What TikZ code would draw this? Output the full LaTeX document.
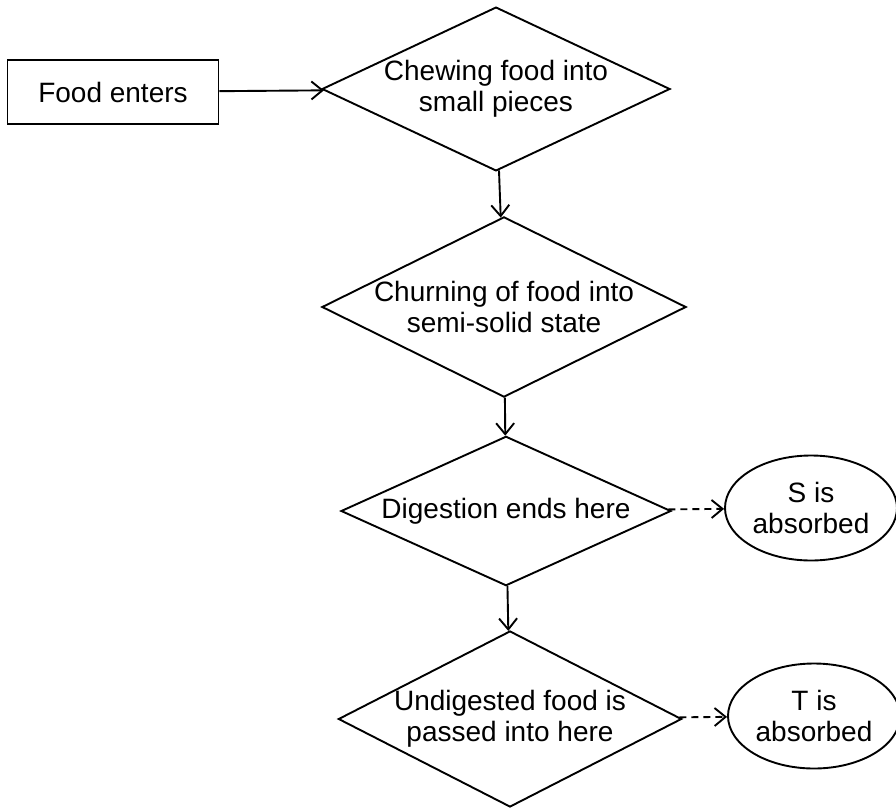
\documentclass[tikz,border=0pt]{standalone}
\usepackage{fontspec}
\setmainfont{Liberation Sans}
\usetikzlibrary{shapes.geometric,arrows.meta}

\tikzset{
  stage/.style={draw,diamond,inner sep=0pt,align=center},
  startbox/.style={draw,rectangle,inner sep=0pt,minimum width=211pt,minimum height=64pt},
  result/.style={draw,ellipse,inner sep=0pt,align=center,minimum width=172pt,minimum height=105pt},
  flow/.style={-{Straight Barb[length=11pt,width=18pt]}},
  leak/.style={flow,dash pattern=on 7pt off 5pt}
}

\begin{document}
\begin{tikzpicture}[x=1pt,y=-1pt,line width=1.9pt,
    font=\fontsize{28}{31}\selectfont]
      \useasboundingbox (0,0) rectangle (896,808);
      \node[startbox] (food) at (113,92) {Food enters};
      \node[stage,aspect=2.1,minimum width=348pt] (chew) at (496,89)
        {Chewing food into\\small pieces};
      \node[stage,aspect=2.02,minimum width=342pt] (churn) at (504,307)
        {Churning of food into\\semi-solid state};
      \node[stage,aspect=2.02,minimum width=330pt] (digest) at (506,511)
        {Digestion ends here};
      \node[stage,aspect=1.95,minimum width=336pt] (undig) at (510,719)
        {Undigested food is\\passed into here};
      \node[result] (sabs) at (811,508) {S is\\absorbed};
      \node[result] (tabs) at (814,716) {T is\\absorbed};
      % main path
      \draw[flow] (food) -- (chew);
      \draw[flow] (chew) -- (churn);
      \draw[flow] (churn) -- (digest);
      \draw[flow] (digest) -- (undig);
      % side products
      \draw[leak] (digest) -- (sabs);
      \draw[leak] (undig) -- (tabs);
    \end{tikzpicture}
\end{document}
